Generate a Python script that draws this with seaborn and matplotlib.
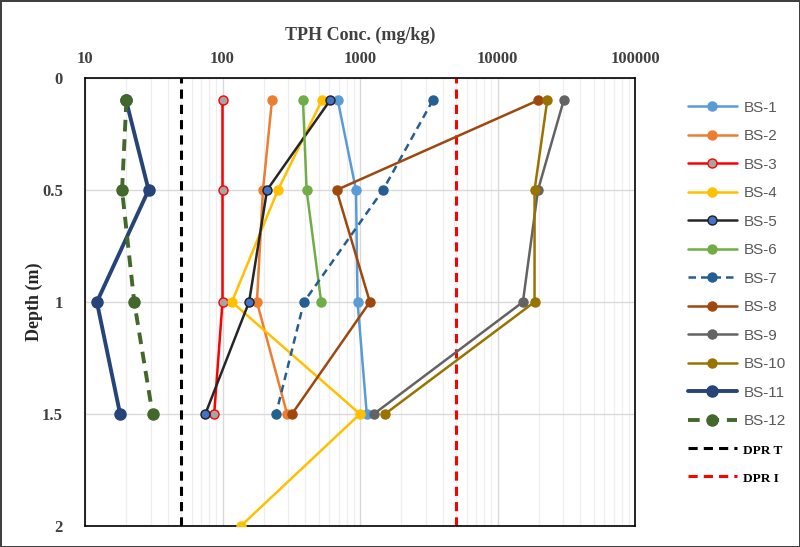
import numpy as np
import pandas as pd
import matplotlib
matplotlib.use("Agg")
import matplotlib.pyplot as plt
import seaborn as sns
from matplotlib.ticker import LogLocator, NullFormatter

# depth (m) and TPH concentration (mg/kg) per borehole
depth = [0.1, 0.5, 1.0, 1.5]
bs1 = [690, 935, 960, 1120]
bs2 = [229, 197, 178, 295]
bs3 = [100, 100, 100, 87]
bs4 = [528, 253, 117, 1000, 136]
depth4 = [0.1, 0.5, 1.0, 1.5, 2.0]
bs5 = [605, 211, 156, 75]
bs6 = [385, 409, 522]
depth6 = [0.1, 0.5, 1.0]
bs7 = [3380, 1470, 391, 245]
bs8 = [19700, 675, 1180, 320]
bs9 = [30300, 19700, 15300, 1260]
bs10 = [23000, 18600, 18600, 1520]
bs11 = [19.9, 29, 12.2, 18]
bs12 = [20, 18.6, 22.8, 31]

dpr_t = 50
dpr_i = 5000

series = [
    ("BS-1", bs1, depth, dict(color="#5B9BD5", mfc="#5B9BD5", mec="#5B9BD5")),
    ("BS-2", bs2, depth, dict(color="#ED7D31", mfc="#ED7D31", mec="#ED7D31")),
    ("BS-3", bs3, depth, dict(color="#FF0000", mfc="#A5A5A5", mec="#FF0000")),
    ("BS-4", bs4, depth4, dict(color="#FFC000", mfc="#FFC000", mec="#FFC000")),
    ("BS-5", bs5, depth, dict(color="#262626", mfc="#4472C4", mec="#1F1F1F")),
    ("BS-6", bs6, depth6, dict(color="#70AD47", mfc="#70AD47", mec="#70AD47")),
    ("BS-7", bs7, depth, dict(color="#255E91", mfc="#255E91", mec="#255E91", ls=(0, (3, 2)))),
    ("BS-8", bs8, depth, dict(color="#9E480E", mfc="#9E480E", mec="#9E480E")),
    ("BS-9", bs9, depth, dict(color="#636363", mfc="#636363", mec="#636363")),
    ("BS-10", bs10, depth, dict(color="#997300", mfc="#997300", mec="#997300")),
    ("BS-11", bs11, depth, dict(color="#264478", mfc="#264478", mec="#264478", lw=2.8, ms=8)),
    ("BS-12", bs12, depth, dict(color="#43682B", mfc="#43682B", mec="#43682B", lw=2.8, ms=8, ls=(0, (3, 2)))),
]

sns.set_style("white")
serif = ["Liberation Serif", "DejaVu Serif"]

fig = plt.figure(figsize=(8, 5.47), dpi=100)
fig.patch.set_edgecolor("#404040")
fig.patch.set_linewidth(2)
ax = fig.add_axes([85 / 800, 1 - 526 / 547, 550 / 800, 448 / 547])

for name, conc, d, st in series:
    df = pd.DataFrame({"conc": conc, "depth": d})
    sns.lineplot(data=df, x="conc", y="depth", sort=False, estimator=None, ax=ax,
                 color=st["color"], lw=st.get("lw", 1.8), marker="o",
                 markersize=st.get("ms", 6.5), markerfacecolor=st["mfc"],
                 markeredgecolor=st["mec"], markeredgewidth=1.0,
                 linestyle=st.get("ls", "-"), label=name, zorder=3)

ax.axvline(dpr_t, color="black", ls=(0, (3, 2)), lw=2.2, label="DPR T", zorder=2)
ax.axvline(dpr_i, color="#FF0000", ls=(0, (3, 2)), lw=2.2, label="DPR I", zorder=2)

ax.set_xscale("log")
ax.set_xlim(10, 100000)
ax.set_ylim(2, 0)
ax.xaxis.tick_top()
ax.xaxis.set_label_position("top")
ax.set_xticks([10, 100, 1000, 10000, 100000])
ax.set_xticklabels(["10", "100", "1000", "10000", "100000"])
ax.xaxis.set_minor_locator(LogLocator(base=10, subs=np.arange(2, 10)))
ax.xaxis.set_minor_formatter(NullFormatter())
ax.set_yticks([0, 0.5, 1, 1.5, 2])
ax.set_yticklabels(["0", "0.5", "1", "1.5", "2"])
ax.tick_params(axis="both", which="both", length=0)
ax.tick_params(axis="x", pad=8)
ax.tick_params(axis="y", pad=16)
for lbl in ax.get_xticklabels() + ax.get_yticklabels():
    lbl.set_family(serif)
    lbl.set_fontweight("bold")
    lbl.set_fontsize(12)
    lbl.set_color("#404040")

ax.grid(True, which="major", axis="both", color="#D9D9D9", lw=1.0, zorder=0)
ax.grid(True, which="minor", axis="x", color="#EEEEEE", lw=0.9, zorder=0)
for sp in ax.spines.values():
    sp.set_color("black")
    sp.set_linewidth(1.2)

ax.set_xlabel("TPH Conc. (mg/kg)", family=serif, fontweight="bold", fontsize=13,
              color="#404040", labelpad=8)
ax.set_ylabel("Depth (m)", family=serif, fontweight="bold", fontsize=13,
              color="#262626")
ax.yaxis.set_label_coords(-42 / 550, 0.5)

leg = ax.legend(loc="upper left", bbox_to_anchor=(680 / 800, 1 - 93 / 547),
                bbox_transform=fig.transFigure, frameon=False, fontsize=11,
                handlelength=3.2, labelspacing=0.95, borderpad=0, handletextpad=0.45)
for t in leg.get_texts():
    if t.get_text().startswith("DPR"):
        t.set_family(serif)
        t.set_fontweight("bold")
        t.set_fontsize(9.5)
        t.set_color("black")
    else:
        t.set_family(["Liberation Sans", "DejaVu Sans"])
        t.set_color("#595959")

fig.savefig("out.png", dpi=100, edgecolor=fig.get_edgecolor())
